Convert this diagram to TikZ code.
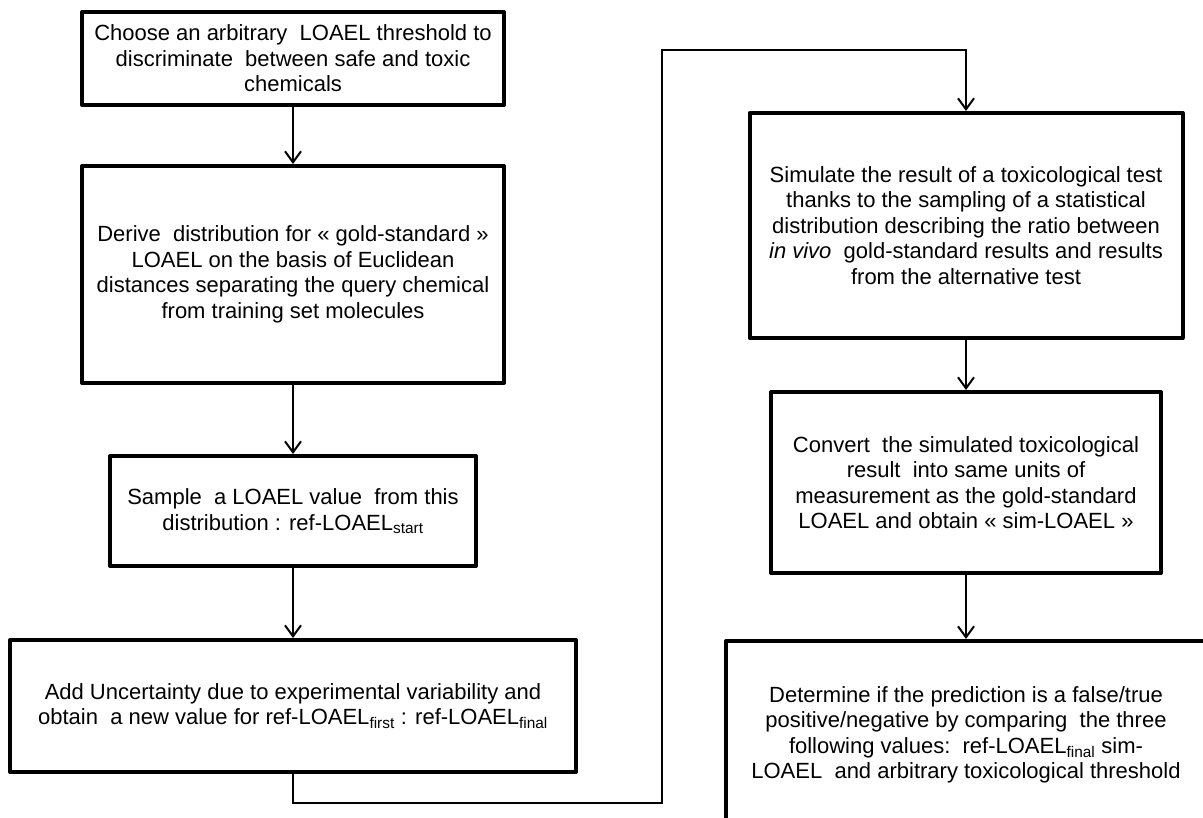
\documentclass[tikz,border=0pt]{standalone}
\usepackage{fontspec}
\setmainfont{Liberation Sans}
\usepackage{tikz}
\usetikzlibrary{arrows.meta}

\tikzset{
	stepbox/.style={draw, line width=4pt, line join=round, align=center, inner sep=0pt,
		font=\fontsize{22}{25.5}\selectfont},
	flow/.style={line width=2pt, -{Straight Barb[length=11pt,width=16pt]}}
}

\begin{document}
\begin{tikzpicture}[x=1pt, y=-1pt]

\clip (0, 0) rectangle (1203, 818);

\newcommand\leftX{293};
\newcommand\rightX{966};

% Threshold
\node [stepbox,
	minimum width=422pt,
	minimum height=93pt
] (threshold) at (\leftX, 58.5) {
Choose an arbitrary\ \ LOAEL threshold to\\
discriminate\ \ between safe and toxic\\
chemicals
};

% Gold-standard distribution
\node [stepbox,
	minimum width=422pt,
	minimum height=217pt
] (derive_distribution) at (\leftX, 274.5) {
Derive\ \ distribution for « gold-standard »\\
LOAEL on the basis of Euclidean\\
distances separating the query chemical\\
from training set molecules
};

% Sample
\node [stepbox,
	minimum width=366pt,
	minimum height=110pt
] (sample_loael) at (\leftX, 511) {
Sample\ \ a LOAEL value\ \ from this\\
distribution : ref-LOAEL\textsubscript{start}
};

% Uncertainty
\node [stepbox,
	minimum width=566pt,
	minimum height=132pt
] (add_uncertainty) at (\leftX, 706) {
Add Uncertainty due to experimental variability and\\
obtain\ \ a new value for ref-LOAEL\textsubscript{first} : ref-LOAEL\textsubscript{final}
};

% Simulated test
\node [stepbox,
	minimum width=433pt,
	minimum height=225pt
] (simulate_test) at (\rightX, 225.5) {
Simulate the result of a toxicological test\\
thanks to the sampling of a statistical\\
distribution describing the ratio between\\
\textit{in vivo}\ \ gold-standard results and results\\
from the alternative test
};

% Conversion
\node [stepbox,
	minimum width=390pt,
	minimum height=181pt
] (convert_result) at (\rightX, 482.5) {
Convert\ \ the simulated toxicological\\
result\ \ into same units of\\
measurement as the gold-standard\\
LOAEL and obtain « sim-LOAEL »
};

% Decision
\node [stepbox,
	minimum width=480pt,
	minimum height=188pt
] (determine_prediction) at (\rightX, 735) {
Determine if the prediction is a false/true\\
positive/negative by comparing\ \ the three\\
following values:\ \ ref-LOAEL\textsubscript{final} sim-\\
LOAEL\ \ and arbitrary toxicological threshold
};

% Turning points of the long connector
\coordinate (low_turn) at (662, 803);
\coordinate (high_turn) at (662, 50);

\draw[flow] (threshold) -- (derive_distribution);
\draw[flow] (derive_distribution) -- (sample_loael);
\draw[flow] (sample_loael) -- (add_uncertainty);

\draw[flow] (add_uncertainty.south) |- (low_turn) -- (high_turn) -| (simulate_test.north);

\draw[flow] (simulate_test) -- (convert_result);
\draw[flow] (convert_result) -- (determine_prediction);

\end{tikzpicture}
\end{document}
